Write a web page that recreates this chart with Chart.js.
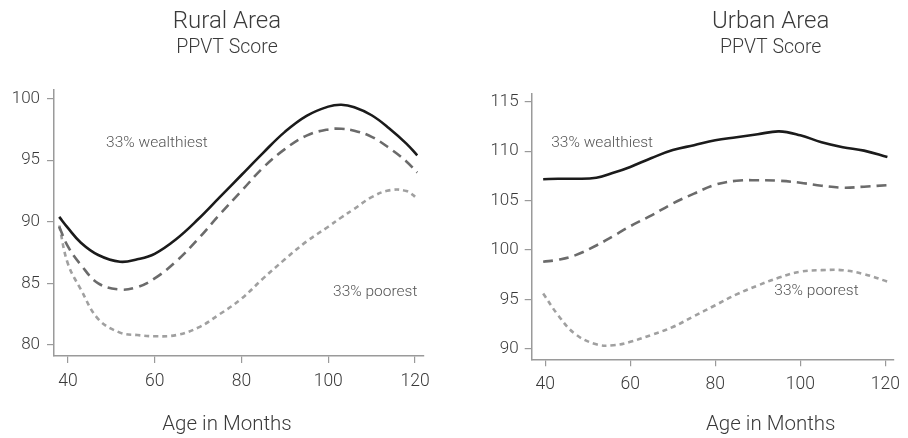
<!DOCTYPE html>
<html>
<head>
<meta charset="utf-8">
<script src="https://cdn.jsdelivr.net/npm/chart.js@4.4.1/dist/chart.umd.min.js"></script>
<style>
  html, body { margin: 0; padding: 0; background: #fff; overflow: hidden; }
  .panel { position: absolute; top: 0; width: 454px; height: 438px; }
</style>
</head>
<body>
<div class="panel" style="left:0"><canvas id="rural" width="454" height="438"></canvas></div>
<div class="panel" style="left:454px"><canvas id="urban" width="454" height="438"></canvas></div>
<script>
// Age in months (x) and PPVT scores
const xTicks = [40, 60, 80, 100, 120];

const ruralMonths = [38, 40, 43, 47, 52, 56, 60, 65, 70, 75, 80, 85, 90, 95, 100, 103, 106, 110, 114, 118, 120.5];
const ruralWealthiest = [90.4, 89.5, 88.3, 87.3, 86.75, 86.95, 87.4, 88.6, 90.2, 92.0, 93.8, 95.6, 97.3, 98.6, 99.35, 99.5, 99.3, 98.65, 97.6, 96.35, 95.4];
const ruralMiddle = [89.6, 88.0, 86.5, 85.0, 84.5, 84.7, 85.4, 86.8, 88.6, 90.6, 92.5, 94.4, 95.9, 97.0, 97.5, 97.55, 97.4, 96.9, 96.0, 94.9, 94.0];
const ruralPoorest = [89.7, 86.6, 84.5, 82.1, 81.0, 80.8, 80.7, 80.8, 81.4, 82.5, 83.75, 85.4, 86.95, 88.4, 89.6, 90.35, 91.05, 92.0, 92.55, 92.5, 91.9];
const ruralYTicks = [80, 85, 90, 95, 100];

const urbanMonths = [39.5, 43, 47, 52, 56, 60, 65, 70, 75, 80, 85, 90, 95, 100, 105, 110, 115, 120.5];
const urbanWealthiest = [107.15, 107.2, 107.2, 107.3, 107.8, 108.4, 109.3, 110.1, 110.6, 111.1, 111.4, 111.7, 112.0, 111.6, 110.9, 110.4, 110.05, 109.4];
const urbanMiddle = [98.8, 99.0, 99.45, 100.45, 101.4, 102.4, 103.5, 104.7, 105.7, 106.6, 107.0, 107.05, 107.0, 106.8, 106.5, 106.3, 106.4, 106.55];
const urbanPoorest = [95.6, 93.4, 91.5, 90.45, 90.35, 90.7, 91.4, 92.2, 93.3, 94.4, 95.5, 96.4, 97.2, 97.8, 97.95, 97.95, 97.55, 96.8];
const urbanYTicks = [90, 95, 100, 105, 110, 115];

const FONT = 'Roboto, "DejaVu Sans", sans-serif';
const AXIS_GRAY = '#9a9a9a';
const TEXT_GRAY = '#3a3a3a';

// draws the two-line title, the x axis title and the in-plot notes
const textPlugin = {
  id: 'texts',
  afterDraw(chart, args, opts) {
    const ctx = chart.ctx;
    ctx.save();
    ctx.textAlign = 'center';
    ctx.textBaseline = 'middle';
    ctx.fillStyle = TEXT_GRAY;
    ctx.font = '300 24px ' + FONT;
    ctx.fillText(opts.title, opts.cx, 22);
    ctx.font = '300 19.5px ' + FONT;
    ctx.fillText(opts.subtitle, opts.cx, 48);
    ctx.font = '300 20.5px ' + FONT;
    ctx.fillText('Age in Months', opts.cx, 425);

    ctx.font = '300 15.5px ' + FONT;
    ctx.textAlign = 'left';
    ctx.fillStyle = '#555';
    opts.notes.forEach(n => {
      const x = chart.scales.x.getPixelForValue(n.x);
      const y = chart.scales.y.getPixelForValue(n.y);
      ctx.fillText(n.text, x, y);
    });
    ctx.restore();
  }
};

function toPoints(xs, ys) {
  return xs.map((x, i) => ({ x: x, y: ys[i] }));
}

function makeChart(id, cfg) {
  const series = [
    { data: cfg.wealthiest, color: '#1b1b1b', dash: [] },
    { data: cfg.middle, color: '#6b6b6b', dash: [10, 6] },
    { data: cfg.poorest, color: '#a0a0a0', dash: [5, 4] }
  ];
  return new Chart(document.getElementById(id), {
    type: 'line',
    data: {
      datasets: series.map(s => ({
        data: toPoints(cfg.months, s.data),
        borderColor: s.color,
        borderDash: s.dash,
        borderWidth: 2.6,
        pointRadius: 0,
        tension: 0.4,
        fill: false
      }))
    },
    options: {
      responsive: false,
      animation: false,
      events: [],
      layout: { padding: { left: 0, right: cfg.padRight, top: cfg.padTop, bottom: 0 } },
      plugins: {
        legend: { display: false },
        tooltip: { enabled: false },
        texts: { title: cfg.title, subtitle: 'PPVT Score', cx: cfg.cx, notes: cfg.notes }
      },
      scales: {
        x: {
          type: 'linear',
          min: 36.8,
          max: 121.9,
          afterFit: s => { s.height = cfg.xHeight; },
          afterBuildTicks: s => { s.ticks = xTicks.map(v => ({ value: v })); },
          border: { color: AXIS_GRAY, width: 1.5 },
          grid: { drawOnChartArea: false, tickLength: 7, color: AXIS_GRAY, lineWidth: 1.2 },
          ticks: { color: TEXT_GRAY, padding: 8, font: { family: FONT, size: 17.5, weight: '300' } }
        },
        y: {
          min: cfg.yMin,
          max: cfg.yMax,
          afterFit: s => { s.width = cfg.yWidth; },
          afterBuildTicks: s => { s.ticks = cfg.yTicks.map(v => ({ value: v })); },
          border: { color: AXIS_GRAY, width: 1.5 },
          grid: { drawOnChartArea: false, tickLength: 7, color: AXIS_GRAY, lineWidth: 1.2 },
          ticks: { color: TEXT_GRAY, padding: cfg.yPad, font: { family: FONT, size: 17, weight: '300' } }
        }
      }
    },
    plugins: [textPlugin]
  });
}

makeChart('rural', {
  title: 'Rural Area', cx: 227,
  months: ruralMonths, wealthiest: ruralWealthiest, middle: ruralMiddle, poorest: ruralPoorest,
  yTicks: ruralYTicks, yMin: 79.1, yMax: 100.7,
  padTop: 90, padRight: 30.7, xHeight: 82, yWidth: 54, yPad: 7,
  notes: [
    { text: '33% wealthiest', x: 48.8, y: 96.4 },
    { text: '33% poorest', x: 101.1, y: 84.3 }
  ]
});

makeChart('urban', {
  title: 'Urban Area', cx: 316.7,
  months: urbanMonths, wealthiest: urbanWealthiest, middle: urbanMiddle, poorest: urbanPoorest,
  yTicks: urbanYTicks, yMin: 88.93, yMax: 115.85,
  padTop: 93.3, padRight: 7.3, xHeight: 78.7, yWidth: 77.7, yPad: 6,
  notes: [
    { text: '33% wealthiest', x: 41.4, y: 110.8 },
    { text: '33% poorest', x: 93.9, y: 95.85 }
  ]
});
</script>
</body>
</html>
